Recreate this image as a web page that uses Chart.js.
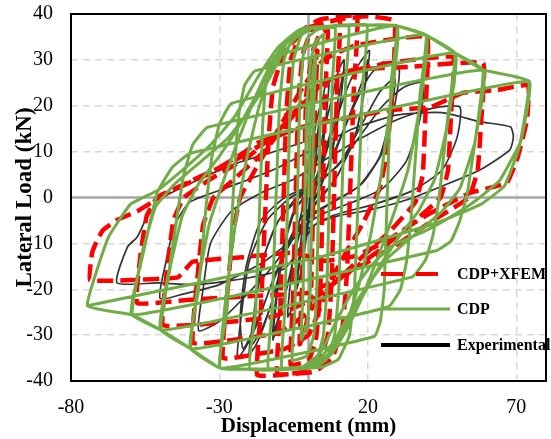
<!DOCTYPE html>
<html>
<head>
<meta charset="utf-8">
<script src="https://cdn.jsdelivr.net/npm/chart.js@4.4.0/dist/chart.umd.min.js"></script>
<style>
  html, body { margin: 0; padding: 0; background: #fff; }
  #wrap { width: 551px; height: 439px; }
</style>
</head>
<body>
<div id="wrap"><canvas id="hysteresis" width="551" height="439"></canvas></div>
<script>
// axis ticks
const xTicks = [-80, -30, 20, 70];
const yTicks = [-40, -30, -20, -10, 0, 10, 20, 30, 40];

// [displacement mm, load kN] – CDP model loops
const cdp = [
  [0,0],[0.8,20],[1.6,28],[2.5,31],
  [1.8,20],[0.6,-20],[-0.6,-28],[-2.5,-31],
  [-1.8,-20],[-0.6,20],[0.8,30],[2.5,34],[5,35.5],
  [4.2,25],[2.8,-20],[1.8,-30],[-0.5,-34.5],[-5.5,-35.5],
  [-4.6,-25],[-3,20],[-1.8,31],[0,35],[3,36.6],[9,37],
  [8,25],[6.2,-20],[5,-30],[3,-35],[0,-36.7],[-9,-37],
  [-8,-25],[-6.2,20],[-5,30],[-2.5,35.3],[1,36.8],[13.5,37.5],
  [12.5,25],[10.2,-20],[8.8,-30],[6,-35.3],[2,-36.9],[-13.5,-37.3],
  [-12.3,-25],[-9.8,20],[-8.2,30],[-5,35.3],[-1,36.9],[8,37.4],[19.7,37.6],
  [18.3,25],[15.5,-20],[13.8,-30],[10,-35.3],[4,-37],[-19.7,-37.4],
  [-17.8,-25],[-15.5,15],[-14.3,26],[-12.5,30.5],[29.8,37.4],
  [27.5,20],[24.5,5],[21,-8],[17,-19],[12.5,-28],[8,-34],[3,-36.6],[-8,-37.3],[-19.7,-37.4],[-29.8,-37.2],
  [-27.5,-20],[-24.5,-5],[-21,8],[-17,19],[-12.5,28],[-8,34],[-3,36.6],[8,37.4],[19.7,37.6],[29.8,37.4],
  [27.8,25],[25.5,-20],[24.2,-27],[22.2,-30.3],[-29.8,-37.2],
  [-27.5,-25],[-25,5],[-23.5,18],[-21.5,24.5],[-18,27.6],[39.6,35.4],
  [37,18],[33.5,6],[29,-3],[24,-12],[18.5,-21],[13.5,-28],[9,-33],[4,-36.2],[0,-37],[-10,-37.3],[-19.7,-37.4],[-29.8,-37.2],[-39.6,-33],
  [-37,-18],[-33.5,-6],[-29,3],[-24,12],[-18.5,21],[-13.5,28],[-9,33],[-4,36.2],[0,37],[10,37.4],[19.7,37.6],[29.8,37.4],[39.6,35.4],
  [37.5,22],[34.5,-5],[33,-14],[31,-20],[27,-23.8],[-39.6,-33],
  [-37,-20],[-34.5,-2],[-32.5,9],[-30,16],[-26,20.5],[49.3,31.5],
  [46.5,15],[42.5,4],[37,-3],[30,-9],[23,-16],[17,-23],[12,-29],[7,-34],[1,-37],[-10,-37.3],[-19.7,-37.4],[-29.8,-37.2],[-39.6,-33],[-49.7,-28.9],
  [-46.5,-15],[-42.5,-4],[-37,3],[-30,9],[-23,16],[-17,23],[-12,29],[-7,34],[-1,37],[10,37.4],[19.7,37.6],[29.8,37.4],[39.6,35.4],[49.3,31.5],
  [47,18],[44,0],[42,-8],[39.5,-13.5],[35,-17.3],[-49.7,-28.9],
  [-47,-16],[-44,-3],[-42,5],[-39,11.5],[-34,15.3],[58.8,27.8],
  [56,12],[51,2],[45,-3],[36,-8],[27,-13],[20,-19],[14,-25],[9,-31],[4,-35],[-1,-37],[-10,-37.3],[-19.7,-37.4],[-29.8,-37.2],[-39.6,-33],[-49.7,-28.9],[-59.4,-25.6],
  [-56,-12],[-51.5,-2],[-45,3],[-36,8],[-27,13],[-20,19],[-14,25],[-9,31],[-4,35],[1,37],[10,37.4],[19.7,37.6],[29.8,37.4],[39.6,35.4],[49.3,31.5],[58.8,27.8],
  [56.5,14],[53.5,1],[51,-5],[48,-9.5],[43,-11.6],[-59.4,-25.6],
  [-55.4,-11.4],[-51,1],[-46,6.5],[-40,9.6],[74.2,25.4],
  [71.5,12.3],[64.5,3.8],[56.7,-0.5],[50,-3.4],[39.9,-7.1],[27.4,-10.8],[20.7,-15.2],[15,-20.2],[9.6,-26.7],[3.9,-33.9],[-1.9,-36.9],[-10,-37.3],[-19.7,-37.4],[-29.8,-37.2],[-39.6,-33],[-49.7,-28.9],[-59.4,-25.6],[-74.5,-23.6],
  [-67.5,-8.8],[-60,-1.5],[-51,1.5],[-41,6.8],[-33,11.5],[-25,17.5],[-17.3,26],[-10.6,32.5],[-5,35.6],[-1.9,36.9],[10,37.4],[19.7,37.6],[29.8,37.4],[39.6,35.4],[49.3,31.5],[58.8,27.8],[74.2,25.4],
  [71,11],[66,2.5],[58,-1.5],[43.3,-5.5],[3.9,-13],[-74.5,-23.6]
];

// CDP + XFEM model loops
const cdpXfem = [
  [0,0],[1.5,25],[3,32],
  [2.2,20],[0.8,-22],[-1.2,-29],[-3,-32],
  [-2.2,-20],[-0.8,22],[1.5,32],[4,35.8],[6.5,36.5],
  [5.6,22],[4,-20],[2.5,-31],[0,-35.5],[-6,-36.5],
  [-5.2,-22],[-3.5,20],[-2,31],[1,36.5],[5,38],[10.6,38.7],
  [9.6,24],[7.8,-18],[6.5,-30],[3,-36.5],[-2,-38],[-10.5,-38.5],
  [-9.5,-24],[-7.5,18],[-6,30],[-2,36.5],[4,38.8],[16.3,39.6],
  [15.3,24],[13,-16],[11.5,-28],[8,-35],[2,-38],[-8,-38.6],[-17.3,-38.7],
  [-16,-24],[-13.5,12],[-12,24],[-8,32],[0,37],[10,38.8],[20,39.5],[29,38.5],
  [28.3,24],[26.5,10],[24,2],[18,-6],[10,-15],[4,-24],[0,-30],[-8,-33],[-18,-34.2],[-28.8,-35],
  [-27.5,-22],[-25.5,-8],[-23,0],[-18,6],[-10,15],[-2,24],[5,30],[15,33],[28,34.5],[40,35],
  [39.5,20],[38.5,5],[36,-1],[28,-7],[18,-13],[8,-19],[0,-25],[-10,-29.5],[-25,-31],[-38.9,-31.7],
  [-37.5,-18],[-35.5,-6],[-32,0],[-25,4],[-15,10],[-5,18],[5,25],[20,28.5],[35,30],[48.7,30.6],
  [48,18],[47,6],[44.5,0],[36,-5],[25,-11],[12,-17],[2,-22],[-12,-26],[-30,-27.3],[-49,-27.8],
  [-47.5,-15],[-45.5,-5],[-42,0],[-33,4],[-20,9],[-8,16],[2,24],[15,27.8],[35,28.5],[58.8,29.3],
  [58.2,17],[57,6],[54,0],[42,-5],[28,-11],[12,-17],[0,-20.8],[-20,-21.5],[-40,-22.3],[-57.7,-23],
  [-56.5,-12],[-54.5,-4],[-51,0],[-40,3.5],[-25,8],[-12,13],[-2,15.4],[10,17],[27,19],[41,19.7],[52,22.8],[63.5,23.4],[74,24.5],
  [73.6,16.9],[70.5,8.8],[66.8,3.2],[54.4,1],[38.6,-4.3],[25.1,-9.9],[15,-12.9],[5,-13.8],[-5,-12],[-22,-13],[-39,-14],[-44,-17.4],[-60,-18],[-73.6,-18],
  [-72.9,-12.1],[-71.2,-9.3],[-69.2,-7.1],[-64.5,-4.9],[-57.7,-3],[-47.6,1],[-33.2,5.3],[-22,9.7],[-17.3,11.9],[-1.9,15.4],[10,17]
];

// test record, two runs per amplitude
const experimental = [
  [0,0],[1,8],[2,12],[1.2,5],[-0.5,-6],[-2,-12],
  [-1,-4],[0.5,8],[2.5,16],[4,20],[3,12],[1,0],[-1,-10],[-2.5,-16],[-4,-20],
  [-3,-12],[-1,-2],[1.5,8],[4,18],[5.5,24],[7,26],[6,18],[4,6],[1,-2],[-2,-10],[-4,-19],[-5.5,-24],[-7,-26],
  [-6,-18],[-4,-8],[-1,0],[2,6],[5,14],[8,22],[10,27.5],[12,30],[11,22],[8,10],[4,2],[0,-3],[-3,-8],[-6,-16],[-9,-24],[-11,-29],[-12,-31],
  [-10.5,-21],[-8,-10],[-4,-2],[1,2],[5,9],[9,18],[11,25],[12,28],[10.5,20],[7,8],[3,1],[-1,-4],[-4,-10],[-7,-19],[-10,-26],[-12,-29.5],
  [-11,-22],[-9,-12],[-5,-3],[0,1],[4,6],[8,14],[12,22],[16,28],[20.5,32],[19,24],[16,14],[10,5],[4,0],[-2,-4],[-7,-10],[-11,-20],[-15,-28],[-18,-32.5],[-20,-34],
  [-18,-24],[-15,-13],[-10,-5],[-3,0],[5,5],[10,12],[15,20],[19,27],[20,30],[18.5,22],[15,12],[9,4],[3,-1],[-3,-5],[-8,-12],[-12,-22],[-16,-29],[-19,-32],
  [-18.5,-26],[-16,-15],[-11,-6],[-4,0],[4,4],[9,10],[14,18],[20,26],[25,29.5],[30.5,28],[29,20],[25,10],[18,3],[8,-1],[0,-4],[-6,-9],[-12,-18],[-17,-27],[-21,-32.5],[-24,-35],
  [-22.5,-25],[-20,-14],[-14,-5],[-6,0],[3,3],[11,8],[18,16],[24,23],[29,26],[28,19],[24,9],[17,2.5],[7,-1.5],[-1,-5],[-7,-11],[-13,-20],[-18,-28],[-22,-33],
  [-23,-26],[-21,-15],[-16,-5],[-8,0],[2,3],[10,7],[18,14],[25,20],[32,24],[38.6,25],[37.5,17],[33,8],[25,2],[15,-1],[5,-3.5],[-3,-7],[-12,-15],[-22,-22],[-30,-27],[-37,-29],
  [-35.5,-20],[-33,-10],[-26,-3],[-16,1],[-5,4],[5,8],[18,13],[30,17],[42,19.5],[51,19.7],[50,13],[45,6],[35,1.5],[22,-1.5],[8,-4],[-3,-8],[-15,-14],[-30,-19],[-42,-21],[-50,-22],
  [-48,-14],[-45,-6],[-40,-1],[-28,2],[-12,6],[0,10],[15,15],[30,18],[45,18.5],[58,16.5],[68,15.4],
  [69,13.2],[67.8,10.4],[57.7,6],[44.3,2.3],[33.2,-0.5],[20.7,-2.7],[10,-4],[2,-6],[-3,-11],[-8,-15.5],[-20,-17.5],[-37.5,-19],[-51,-18.6],[-64.5,-18.6],
  [-61,-10.8],[-57.7,-8.6],[-54.4,-4.3],[-49,0],[-35,4.5],[-24,7.5],[-13,9.7],[-2,12]
];

const serif = "'Liberation Serif', 'Times New Roman', serif";
const toXY = pts => pts.map(([x, y]) => ({ x, y }));

// legend rows drawn inside the plot, lower right
const legendRows = [
  { text: 'CDP+XFEM', color: '#FF0000', width: 4, dash: [22, 13], y: 274 },
  { text: 'CDP', color: '#70AD47', width: 3, dash: [], y: 309 },
  { text: 'Experimental', color: '#000000', width: 4, dash: [], y: 345 }
];

const decor = {
  id: 'decor',
  beforeDatasetsDraw(chart) {
    const { ctx, chartArea: a, scales: { x, y } } = chart;
    const x0 = x.getPixelForValue(0);
    const y0 = y.getPixelForValue(0);
    ctx.save();
    ctx.strokeStyle = '#a6a6a6';
    ctx.lineWidth = 2.5;
    ctx.beginPath();
    ctx.moveTo(a.left, y0); ctx.lineTo(a.right, y0);
    ctx.moveTo(x0, a.top); ctx.lineTo(x0, a.bottom);
    ctx.stroke();
    ctx.restore();
  },
  afterDraw(chart) {
    const { ctx, chartArea: a } = chart;
    ctx.save();
    ctx.strokeStyle = '#000';
    ctx.lineWidth = 2;
    ctx.strokeRect(a.left, a.top, a.right - a.left, a.bottom - a.top);

    ctx.fillStyle = '#000';
    ctx.textAlign = 'center';
    ctx.textBaseline = 'middle';
    ctx.font = 'bold 21px ' + serif;
    ctx.fillText('Displacement (mm)', (a.left + a.right) / 2, 427);
    ctx.save();
    ctx.translate(25, (a.top + a.bottom) / 2);
    ctx.rotate(-Math.PI / 2);
    ctx.font = 'bold 23px ' + serif;
    ctx.fillText('Lateral Load (kN)', 0, 0);
    ctx.restore();

    ctx.font = 'bold 16px ' + serif;
    ctx.textAlign = 'left';
    legendRows.forEach(r => {
      ctx.strokeStyle = r.color;
      ctx.lineWidth = r.width;
      ctx.setLineDash(r.dash);
      ctx.beginPath();
      ctx.moveTo(381, r.y); ctx.lineTo(450, r.y);
      ctx.stroke();
      ctx.setLineDash([]);
      ctx.fillText(r.text, 457, r.y + 1);
    });
    ctx.restore();
  }
};

new Chart(document.getElementById('hysteresis'), {
  type: 'scatter',
  data: {
    datasets: [
      { label: 'CDP', data: toXY(cdp), showLine: true, borderColor: '#70AD47', borderWidth: 3,
        pointRadius: 0, tension: 0.1, fill: false },
      { label: 'CDP+XFEM', data: toXY(cdpXfem), showLine: true, borderColor: '#FF0000', borderWidth: 4.5,
        borderDash: [16, 7], pointRadius: 0, tension: 0.1, fill: false },
      { label: 'Experimental', data: toXY(experimental), showLine: true, borderColor: 'rgba(30,30,30,0.9)',
        borderWidth: 1.7, pointRadius: 0, tension: 0.2, fill: false }
    ]
  },
  options: {
    responsive: false,
    animation: false,
    devicePixelRatio: 1,
    layout: { padding: { top: 14, right: 5, left: 0, bottom: 0 } },
    plugins: { legend: { display: false }, tooltip: { enabled: false } },
    scales: {
      x: {
        type: 'linear', min: -80, max: 80,
        afterBuildTicks: s => { s.ticks = xTicks.map(v => ({ value: v })); },
        afterFit: s => { s.height = 58; s.paddingLeft = 0; s.paddingRight = 0; },
        grid: {
          drawTicks: false, lineWidth: 1.5,
          color: c => (c.tick && c.tick.value === -80) ? 'rgba(0,0,0,0)' : '#d9d9d9'
        },
        border: { display: false, dash: [7, 5] },
        ticks: { font: { family: serif, size: 20 }, color: '#000', padding: 15, autoSkip: false, maxRotation: 0 }
      },
      y: {
        type: 'linear', min: -40, max: 40,
        afterBuildTicks: s => { s.ticks = yTicks.map(v => ({ value: v })); },
        afterFit: s => { s.width = 71; s.paddingTop = 0; s.paddingBottom = 0; },
        grid: {
          drawTicks: false, lineWidth: 1.5,
          color: c => (c.tick && [40, 0, -40].includes(c.tick.value)) ? 'rgba(0,0,0,0)' : '#d9d9d9'
        },
        border: { display: false, dash: [7, 5] },
        ticks: { font: { family: serif, size: 20 }, color: '#000', padding: 18, autoSkip: false }
      }
    }
  },
  plugins: [decor]
});
</script>
</body>
</html>
